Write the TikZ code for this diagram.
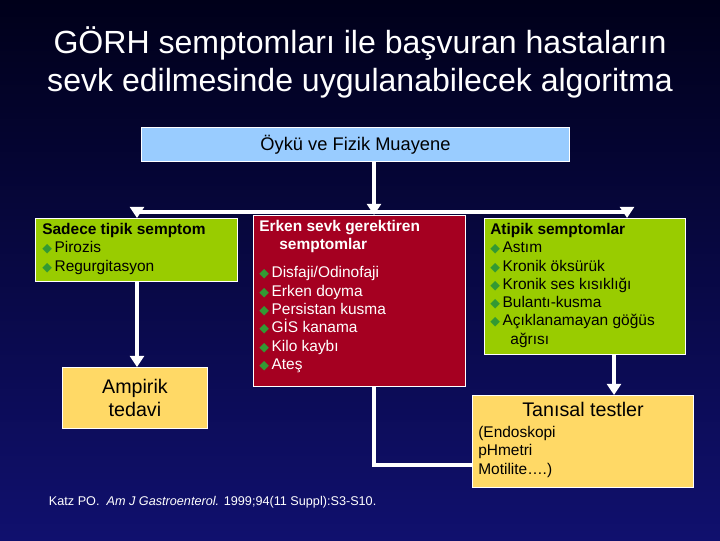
\documentclass[tikz,border=0pt]{standalone}
\usepackage{fontspec}
\setmainfont{Liberation Sans}
\newfontfamily\symfont{DejaVu Sans}
\usetikzlibrary{arrows.meta,positioning}
\definecolor{navytop}{HTML}{00001A}
\definecolor{navybot}{HTML}{10106E}
\definecolor{headblue}{HTML}{99CCFF}
\definecolor{limegreen}{HTML}{99CC00}
\definecolor{paleyellow}{HTML}{FFD966}
\definecolor{darkred}{HTML}{A50021}
\definecolor{bulletgreen}{HTML}{339933}
\newcommand{\bul}{{\symfont\textcolor{bulletgreen}{\small ◆}}\,}
\tikzset{
  box/.style={draw=white, line width=0.6pt, minimum width=#1, inner sep=0pt},
  txt/.style={anchor=north west, align=left, inner sep=0pt, font=\fontsize{11}{13}\selectfont},
  link/.style={white, line width=3pt},
  arr/.style={link, -{Triangle[length=8pt,width=10pt]}}
}
\begin{document}
\begin{tikzpicture}[x=0.025cm,y=-0.025cm]
\shade[top color=navytop, bottom color=navybot] (0,0) rectangle (720,540);
\useasboundingbox (0,0) rectangle (720,540);

% title
\node (title) [white, align=center, font=\fontsize{22.8}{27}\selectfont] at (360,62)
  {GÖRH semptomları ile başvuran hastaların\\sevk edilmesinde uygulanabilecek algoritma};

% boxes
\node (oyku) [box=10.7cm, minimum height=0.85cm, fill=headblue, font=\fontsize{13}{15}\selectfont, anchor=north west] at (141,127) {Öykü ve Fizik Muayene};
\node (tipik) [box=5.05cm, minimum height=1.575cm, fill=limegreen, anchor=north west] at (35,218) {};
\node (erken) [box=5.3cm, minimum height=4.275cm, fill=darkred, anchor=north west] at (253,215) {};
\node (atipik) [box=5.025cm, minimum height=3.4cm, fill=limegreen, anchor=north west] at (484,218) {};
\node (ampirik) [box=3.625cm, minimum height=1.525cm, fill=paleyellow, align=center, font=\fontsize{14}{17}\selectfont, anchor=north west] at (62,367) {Ampirik\\tedavi};
\node (tanisal) [box=5.525cm, minimum height=2.3cm, fill=paleyellow, anchor=north west] at (472,395) {};

% box texts
\node [txt] at (42,223) {\textbf{Sadece tipik semptom}\\\bul Pirozis\\\bul Regurgitasyon};
\node [txt, white] at (259,220) {\textbf{Erken sevk gerektiren}\\\hspace{1.3em}\textbf{semptomlar}\\[7pt]
  \bul Disfaji/Odinofaji\\\bul Erken doyma\\\bul Persistan kusma\\\bul GİS kanama\\\bul Kilo kaybı\\\bul Ateş};
\node [txt] at (490,223) {\textbf{Atipik semptomlar}\\\bul Astım\\\bul Kronik öksürük\\\bul Kronik ses kısıklığı\\\bul Bulantı-kusma\\\bul Açıklanamayan göğüs\\\hspace{1.3em}ağrısı};
\node [anchor=north, inner sep=0pt, font=\fontsize{14}{17}\selectfont] at (583,402) {Tanısal testler};
\node [txt] at (478,426) {(Endoskopi\\pHmetri\\Motilite….)};

% connectors
\coordinate (split) at (374,212);
\draw [link] (oyku.south -| split) -- (split);
\draw [arr] (split) -| (tipik.north -| 137,0);
\draw [arr] (split) -- (erken.north -| split);
\draw [arr] (split) -| (atipik.north -| 627,0);
\draw [arr] (tipik.south -| 137,0) -- (ampirik.north -| 137,0);
\draw [arr] (atipik.south -| 614,0) -- (tanisal.north -| 614,0);
\draw [link] (erken.south -| split) |- (tanisal.west |- 0,465);

% reference
\node (ref) [anchor=west, white, font=\fontsize{9}{11}\selectfont] at (44,502)
  {Katz PO.\ \ \textit{Am J Gastroenterol.} 1999;94(11 Suppl):S3-S10.};
\end{tikzpicture}
\end{document}
